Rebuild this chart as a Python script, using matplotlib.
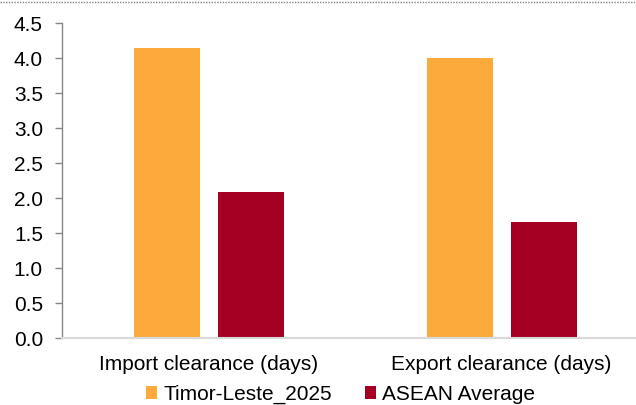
import matplotlib
matplotlib.use("Agg")
import matplotlib.pyplot as plt
from matplotlib.lines import Line2D
from matplotlib.patches import Patch
import numpy as np

plt.rcParams['font.family'] = ['Liberation Sans', 'DejaVu Sans']

categories = ["Import clearance (days)", "Export clearance (days)"]
series_names = ["Timor-Leste_2025", "ASEAN Average"]
timor_leste = [4.14, 4.0]
asean_avg = [2.09, 1.66]
y_ticks = [0.0, 0.5, 1.0, 1.5, 2.0, 2.5, 3.0, 3.5, 4.0, 4.5]

colors = ["#FBAA3B", "#A50024"]
FS = 15

fig = plt.figure(figsize=(6.36, 4.05), dpi=100)
ax = fig.add_axes([0.098, 0.1647, 0.921, 0.7778])

x = np.arange(len(categories))
width = 0.225
offset = 0.1435
ax.bar(x - offset, timor_leste, width, color=colors[0], label=series_names[0])
ax.bar(x + offset, asean_avg, width, color=colors[1], label=series_names[1])

ax.set_xlim(-0.5, 1.5)
ax.set_ylim(0, 4.5)
ax.set_yticks(y_ticks)
ax.set_yticklabels([f"{v:.1f}" for v in y_ticks])
ax.set_xticks(x)
ax.set_xticklabels(categories)

ax.tick_params(axis='y', length=5, width=1, color="#868686", pad=9, labelsize=FS)
ax.tick_params(axis='x', length=0, pad=12, labelsize=FS)

for side in ("top", "right"):
    ax.spines[side].set_visible(False)
ax.spines["left"].set_color("#868686")
ax.spines["left"].set_linewidth(1.0)
ax.spines["bottom"].set_color("#D9D9D9")
ax.spines["bottom"].set_linewidth(1.5)

handles = [Patch(facecolor=c, edgecolor='none') for c in colors]
fig.legend(handles, series_names, loc="center", bbox_to_anchor=(0.536, 0.026),
           ncol=2, frameon=False, fontsize=FS, handlelength=0.52,
           handleheight=0.52, handletextpad=0.3, columnspacing=1.6,
           borderaxespad=0, borderpad=0)

# dotted border along the top edge
fig.add_artist(Line2D([0, 1], [1 - 1.5 / 405, 1 - 1.5 / 405], transform=fig.transFigure,
                      color="#808080", linestyle=(0, (1, 1)), linewidth=1.0))

fig.savefig("out.png", dpi=100)
